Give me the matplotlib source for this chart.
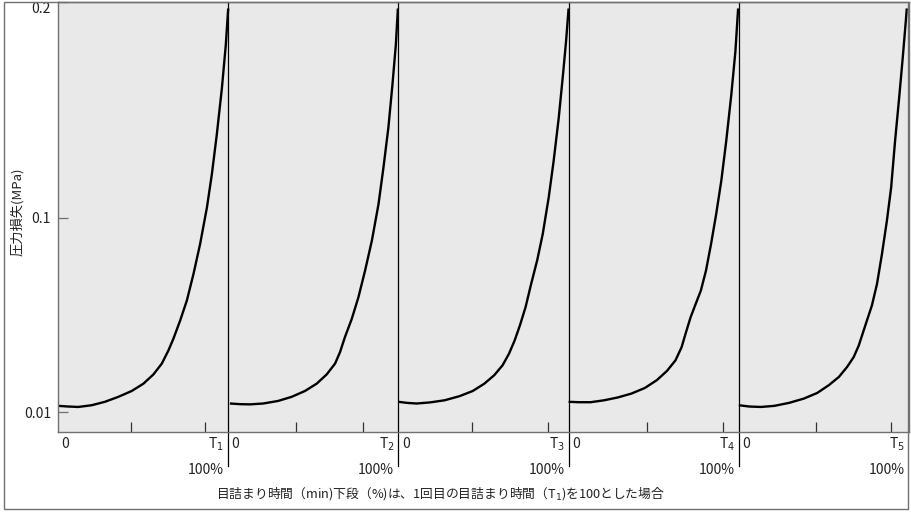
import matplotlib
matplotlib.use("Agg")
import matplotlib.pyplot as plt
import matplotlib.transforms as mtransforms
from matplotlib.patches import Rectangle

plt.rcParams["font.family"] = ["Noto Sans CJK JP", "DejaVu Sans"]

# local time within each clogging run (fraction of panel width) and pressure loss (MPa)
run1_t = [0.002, 0.061, 0.119, 0.198, 0.276, 0.355, 0.433, 0.502, 0.561, 0.610, 0.649, 0.678,
          0.718, 0.757, 0.796, 0.835, 0.875, 0.904, 0.933, 0.963, 0.986, 1.0]
run1_p = [0.0129, 0.0126, 0.0124, 0.0132, 0.0148, 0.0171, 0.0198, 0.0232, 0.0275, 0.0325, 0.0386, 0.0440,
          0.0525, 0.0617, 0.0740, 0.0879, 0.1048, 0.1202, 0.1386, 0.1601, 0.1802, 0.197]

run2_t = [0.01, 0.069, 0.128, 0.206, 0.294, 0.373, 0.451, 0.52, 0.579, 0.628, 0.657, 0.686,
          0.726, 0.765, 0.804, 0.844, 0.883, 0.912, 0.941, 0.965, 0.985, 0.997]
run2_p = [0.0140, 0.0137, 0.0136, 0.0140, 0.0152, 0.0171, 0.0198, 0.0232, 0.0275, 0.0325, 0.0378, 0.0448,
          0.0532, 0.0632, 0.0755, 0.0894, 0.1063, 0.1232, 0.1417, 0.1617, 0.1802, 0.197]

run3_t = [0.0, 0.049, 0.107, 0.185, 0.272, 0.359, 0.437, 0.505, 0.563, 0.612, 0.650, 0.683,
          0.714, 0.747, 0.780, 0.815, 0.848, 0.883, 0.912, 0.942, 0.967, 0.985, 1.0]
run3_p = [0.0148, 0.0143, 0.0140, 0.0145, 0.0155, 0.0174, 0.0198, 0.0232, 0.0271, 0.0317, 0.0371, 0.0432,
          0.0502, 0.0586, 0.0694, 0.0802, 0.0925, 0.1094, 0.1263, 0.1463, 0.1663, 0.1817, 0.197]

run4_t = [0.0, 0.060, 0.130, 0.209, 0.289, 0.369, 0.448, 0.518, 0.578, 0.628, 0.664, 0.687,
          0.717, 0.747, 0.777, 0.807, 0.837, 0.867, 0.897, 0.926, 0.956, 0.980, 0.996]
run4_p = [0.0148, 0.0146, 0.0146, 0.0155, 0.0168, 0.0186, 0.0212, 0.0248, 0.0291, 0.0340, 0.0401, 0.0463,
          0.0540, 0.0602, 0.0663, 0.0755, 0.0879, 0.1017, 0.1171, 0.1355, 0.1571, 0.1771, 0.197]

run5_t = [0.0, 0.062, 0.130, 0.208, 0.296, 0.383, 0.461, 0.529, 0.588, 0.636, 0.675, 0.705,
          0.724, 0.753, 0.782, 0.812, 0.841, 0.870, 0.895, 0.918, 0.942, 0.963, 0.981, 0.987]
run5_p = [0.0132, 0.0126, 0.0124, 0.0129, 0.0143, 0.0163, 0.0189, 0.0225, 0.0263, 0.0309, 0.0355, 0.0409,
          0.0455, 0.0525, 0.0594, 0.0694, 0.0832, 0.0986, 0.1140, 0.1355, 0.1555, 0.1740, 0.1909, 0.197]

runs = [(run1_t, run1_p), (run2_t, run2_p), (run3_t, run3_p), (run4_t, run4_p), (run5_t, run5_p)]

# tick marks inside each panel (mid point and T_n)
mid_ticks = [0.43, 0.40, 0.43, 0.46, 0.455]
t_ticks = [0.865, 0.79, 0.88, 0.91, 0.895]
t_labels = ["T$_1$", "T$_2$", "T$_3$", "T$_4$", "T$_5$"]

y_ticks = [0.01, 0.1, 0.2]
y_ticklabels = ["0.01", "0.1", "0.2"]

W, H = 911, 512
fig = plt.figure(figsize=(W / 100, H / 100), dpi=100)
ax = fig.add_axes([58 / W, (H - 432) / H, (909 - 58) / W, (432 - 2) / H])
ax.set_facecolor("#e8e9e8")

n = len(runs)
for i, (t, p) in enumerate(runs):
    ax.plot([i + v for v in t], p, color="black", lw=1.7,
            solid_joinstyle="round", solid_capstyle="butt")

ax.set_xlim(0, n)
ax.set_ylim(0.0008, 0.2)

edge = "#707070"
txt = "#222222"
for s in ax.spines.values():
    s.set_color(edge)
    s.set_linewidth(1.0)

xt = [i + v for i, v in enumerate(mid_ticks)] + [i + v for i, v in enumerate(t_ticks)]
ax.set_xticks(xt)
ax.set_xticklabels([])
ax.tick_params(axis="x", direction="in", length=7, width=0.9, color="#333333")

ax.set_yticks(y_ticks)
ax.set_yticklabels(y_ticklabels)
ax.tick_params(axis="y", direction="in", length=7.5, width=0.9, color=edge, pad=5,
               labelsize=10, labelcolor=txt)
for lab in ax.get_yticklabels():
    if lab.get_text() == "0.2":
        lab.set_verticalalignment("top")

trans = mtransforms.blended_transform_factory(ax.transData, ax.transAxes)
for i in range(1, n):
    ax.plot([i, i], [1.0, -34 / 430], color="black", lw=0.9, transform=trans, clip_on=False)

for i in range(n):
    ax.annotate("0", (i, 0), xycoords=trans, xytext=(2.5, -8.6), textcoords="offset points",
                ha="left", va="center", fontsize=10, color=txt)
    ax.annotate(t_labels[i], (i + 1, 0), xycoords=trans, xytext=(-3, -8.6), textcoords="offset points",
                ha="right", va="center", fontsize=10, color=txt)
    ax.annotate("100%", (i + 1, 0), xycoords=trans, xytext=(-3, -27.4), textcoords="offset points",
                ha="right", va="center", fontsize=10, color=txt)

fig.text(17 / W, 1 - 212 / H, "圧力損失(MPa)", rotation=90, ha="center", va="center",
         fontsize=9.5, color=txt)
fig.text(440 / W, 1 - 494 / H, "目詰まり時間（min)下段（%)は、1回目の目詰まり時間（T$_1$)を100とした場合",
         ha="center", va="center", fontsize=9.2, color=txt)

fig.add_artist(Rectangle((4 / W, 3 / H), (908 - 4) / W, (510 - 3) / H, transform=fig.transFigure,
                         fill=False, edgecolor=edge, lw=1.0))

fig.savefig("out.png", dpi=100)
